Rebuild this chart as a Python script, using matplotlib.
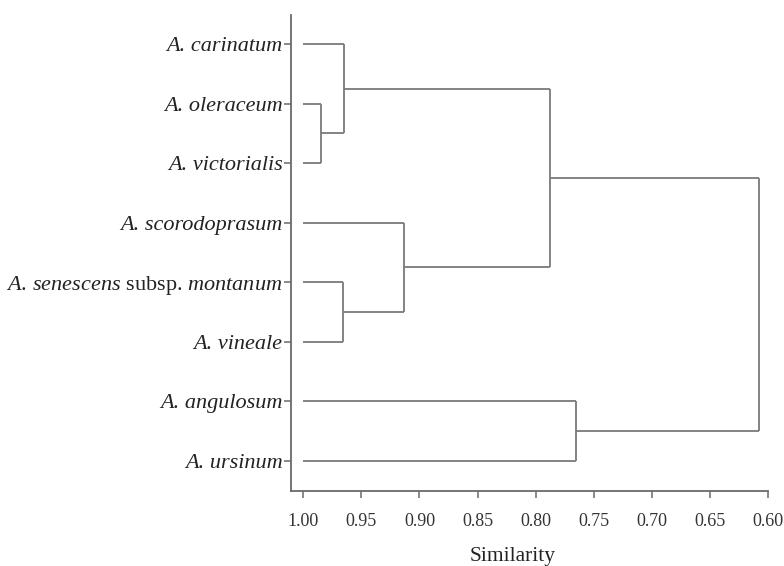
import matplotlib
matplotlib.use("Agg")
import matplotlib.pyplot as plt

# Leaves (top to bottom)
leaves = [
    "A. carinatum",
    "A. oleraceum",
    "A. victorialis",
    "A. scorodoprasum",
    r"$\it{A.\,senescens}$ subsp. $\it{montanum}$",
    "A. vineale",
    "A. angulosum",
    "A. ursinum",
]
# Merges: (left member, right member, similarity); members are leaf indices or node ids ("n0"...)
merges = [
    (1, 2, 0.985),        # n0 oleraceum + victorialis
    (0, "n0", 0.965),     # n1 carinatum + n0
    (4, 5, 0.966),        # n2 senescens + vineale
    (3, "n2", 0.913),     # n3 scorodoprasum + n2
    ("n1", "n3", 0.788),  # n4
    (6, 7, 0.765),        # n5 angulosum + ursinum
    ("n4", "n5", 0.608),  # n6 root
]
xticks = [1.00, 0.95, 0.90, 0.85, 0.80, 0.75, 0.70, 0.65, 0.60]

plt.rcParams['mathtext.fontset'] = 'custom'
plt.rcParams['mathtext.rm'] = 'Liberation Serif'
plt.rcParams['mathtext.it'] = 'Liberation Serif:italic'
plt.rcParams['font.family'] = ['Liberation Serif', 'DejaVu Serif']

W, H = 784, 566
fig = plt.figure(figsize=(W / 100, H / 100), dpi=100)
ax = fig.add_axes([291 / W, 1 - 491 / H, (768.5 - 291) / W, (491 - 15) / H])

line_kw = dict(color="#7a7a7a", lw=1.3, solid_capstyle="butt")

pos = {i: (i, 1.0) for i in range(len(leaves))}
for k, (a, b, s) in enumerate(merges):
    ya, xa = pos[a]
    yb, xb = pos[b]
    ax.plot([xa, s], [ya, ya], **line_kw)
    ax.plot([xb, s], [yb, yb], **line_kw)
    ax.plot([s, s], [ya, yb], **line_kw)
    pos[f"n{k}"] = ((ya + yb) / 2, s)

ax.set_xlim(1.0106, 0.5995)
ax.set_ylim(7.51, -0.49)
ax.set_yticks(range(len(leaves)))
ax.set_yticklabels(leaves, fontsize=16, color="#222222")
for lab in ax.get_yticklabels():
    if not lab.get_text().startswith("$"):
        lab.set_fontstyle("italic")
ax.set_xticks(xticks)
ax.set_xticklabels([f"{t:.2f}" for t in xticks], fontsize=13, color="#333333")

for side in ["top", "right"]:
    ax.spines[side].set_visible(False)
for side in ["left", "bottom"]:
    ax.spines[side].set_color("#6a6a6a")
    ax.spines[side].set_linewidth(1.3)
ax.tick_params(axis="both", direction="out", length=5, width=1.1, color="#6a6a6a")
ax.tick_params(axis="y", pad=1)
ax.tick_params(axis="x", pad=11)

fig.text(513 / W, 1 - 557 / H, "Similarity", ha="center", va="center", fontsize=15.5, color="#222222")

fig.savefig("out.png", dpi=100, facecolor="white")
